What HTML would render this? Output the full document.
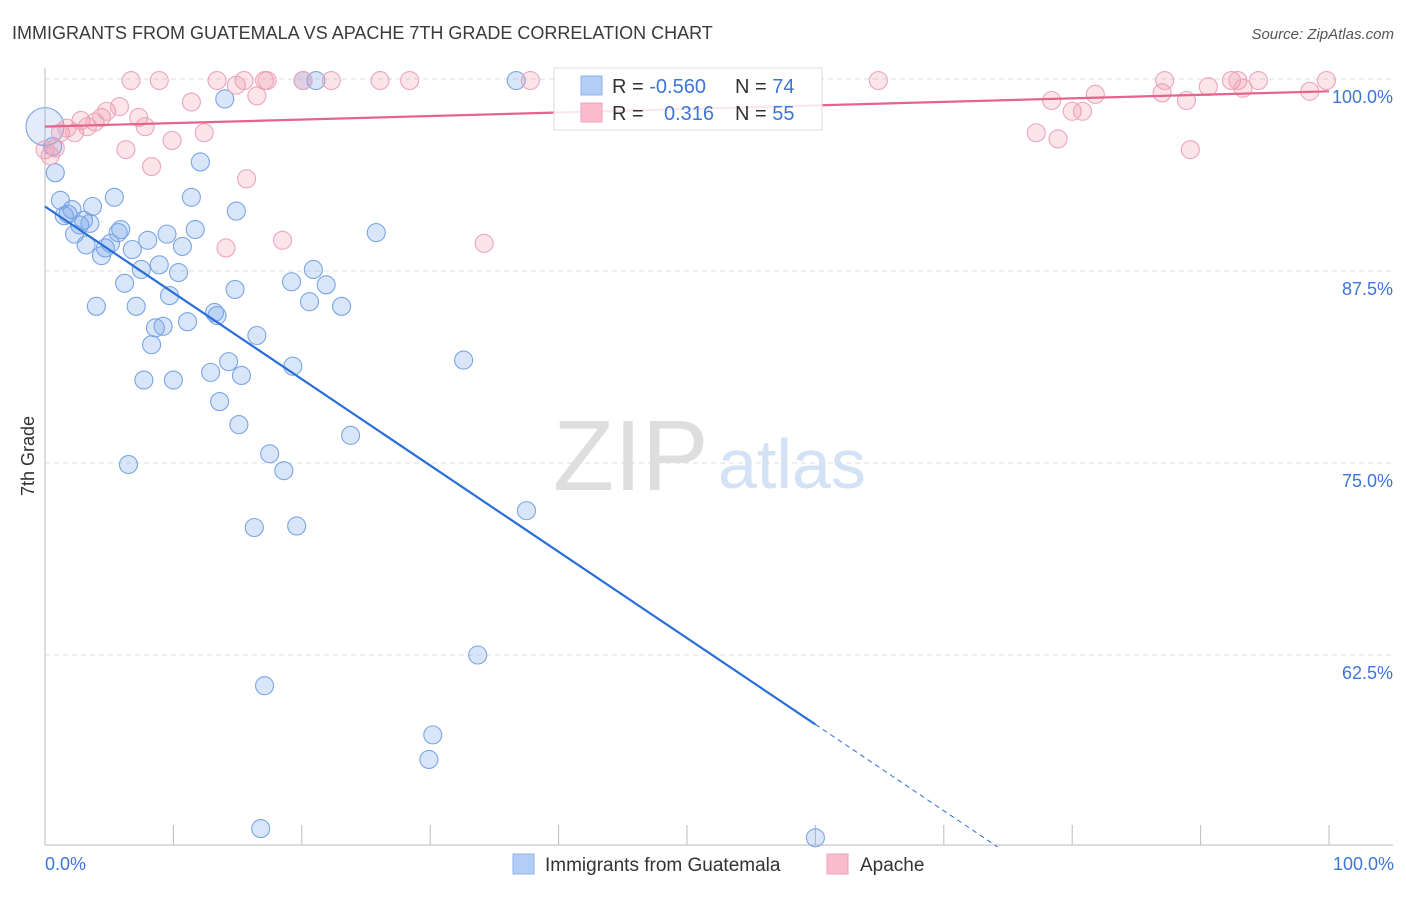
<!DOCTYPE html>
<html><head><meta charset="utf-8">
<style>
body{margin:0;background:#fff;font-family:"Liberation Sans",sans-serif;}
svg text{font-family:"Liberation Sans",sans-serif;}
</style></head>
<body>
<svg id="chart" width="1406" height="892" xmlns="http://www.w3.org/2000/svg">
<text x="12" y="39" font-size="18" fill="#3a3a3a">IMMIGRANTS FROM GUATEMALA VS APACHE 7TH GRADE CORRELATION CHART</text>
<text x="1394" y="39" font-size="15" fill="#555" text-anchor="end" font-style="italic">Source: ZipAtlas.com</text>
<text x="553" y="490" font-size="100" fill="#dedede" font-family="Liberation Serif,serif">ZIP</text>
<text x="718" y="488" font-size="70" fill="#d3e2f5">atlas</text>
<g id="grid"></g>
<g id="axes"></g>
<g id="pts"></g>
<g id="trend"></g>
<g>
<rect x="554" y="68" width="268" height="62" fill="#fff" fill-opacity="0.85" stroke="#ddd"/>
<rect x="581" y="76" width="21" height="19" fill="#b4cdf4" stroke="#8fb2e8"/>
<rect x="581" y="103" width="21" height="19" fill="#f8bccd" stroke="#eea3ba"/>
<text x="612" y="93" font-size="20" fill="#333">R = <tspan fill="#3d76d6">-0.560</tspan></text>
<text x="735" y="93" font-size="20" fill="#333">N = <tspan fill="#3d76d6">74</tspan></text>
<text x="612" y="120" font-size="20" fill="#333">R = <tspan fill="#3d76d6" x="664">0.316</tspan></text>
<text x="735" y="120" font-size="20" fill="#333">N = <tspan fill="#3d76d6">55</tspan></text>
</g>
<text transform="translate(34,456) rotate(-90)" font-size="18" fill="#333" text-anchor="middle">7th Grade</text>
<text x="45" y="870" font-size="18" fill="#3d76d6">0.0%</text>
<text x="1394" y="870" font-size="18" fill="#3d76d6" text-anchor="end">100.0%</text>
<g>
<rect x="513" y="854" width="21" height="20" fill="#b4cdf4" stroke="#8fb2e8"/>
<text x="545" y="871" font-size="19" fill="#333">Immigrants from Guatemala</text>
<rect x="827" y="854" width="21" height="20" fill="#f8bccd" stroke="#eea3ba"/>
<text x="860" y="871" font-size="19" fill="#333">Apache</text>
</g>
</svg>
<script>
const yTicks=[100,87.5,75,62.5];
const yTickLabels=["100.0%","87.5%","75.0%","62.5%"];
const blueX=[0,0.6,0.8,1.2,1.5,1.8,2.1,2.3,2.7,3.0,3.2,3.5,3.7,4.0,4.4,4.7,5.1,5.4,5.7,5.9,6.2,6.5,6.8,7.1,7.5,7.7,8.0,8.3,8.6,8.9,9.2,9.5,9.7,10.0,10.4,10.7,11.1,11.4,11.7,12.1,12.9,13.2,13.4,13.6,14.0,14.3,14.9,14.8,15.1,15.3,16.3,16.5,16.8,17.1,17.5,18.6,19.2,19.3,19.6,20.1,20.6,20.9,21.1,21.9,23.1,23.8,25.8,29.9,30.2,32.6,33.7,36.7,37.5,60.0];
const blueY=[96.9,95.6,93.9,92.1,91.1,91.2,91.5,89.9,90.5,90.8,89.2,90.6,91.7,85.2,88.5,89.0,89.3,92.3,90.0,90.2,86.7,74.9,88.9,85.2,87.6,80.4,89.5,82.7,83.8,87.9,83.9,89.9,85.9,80.4,87.4,89.1,84.2,92.3,90.2,94.6,80.9,84.8,84.6,79.0,98.7,81.6,91.4,86.3,77.5,80.7,70.8,83.3,51.2,60.5,75.6,74.5,86.8,81.3,70.9,99.9,85.5,87.6,99.9,86.6,85.2,76.8,90.0,55.7,57.3,81.7,62.5,99.9,71.9,50.6];
const pinkX=[0,0.4,0.8,1.2,1.7,2.3,2.8,3.3,3.9,4.4,4.8,5.8,6.3,6.7,7.3,7.8,8.3,8.9,9.9,11.4,12.4,13.4,14.1,14.9,15.5,15.7,16.5,17.1,17.3,18.5,20.1,22.3,26.1,28.4,34.2,37.8,64.9,77.2,78.4,78.9,80.0,80.8,81.8,87.0,87.2,88.9,89.2,90.6,92.4,92.9,93.3,94.5,98.5,99.8];
const pinkY=[95.4,95.0,95.5,96.5,96.8,96.5,97.3,96.9,97.2,97.5,97.9,98.2,95.4,99.9,97.5,96.9,94.3,99.9,96.0,98.5,96.5,99.9,89.0,99.6,99.9,93.5,98.9,99.9,99.9,89.5,99.9,99.9,99.9,99.9,89.3,99.9,99.9,96.5,98.6,96.1,97.9,97.9,99.0,99.1,99.9,98.6,95.4,99.5,99.9,99.9,99.4,99.9,99.2,99.9];
const blueTrend=[91.7,-0.562];
const pinkTrend=[96.9,0.023];
const NS="http://www.w3.org/2000/svg";
const X=v=>45+v*12.84, Y=v=>79+(100-v)*15.36;
function mk(tag,attrs,parent){const e=document.createElementNS(NS,tag);for(const k in attrs)e.setAttribute(k,attrs[k]);parent.appendChild(e);return e;}
const grid=document.getElementById('grid'),axes=document.getElementById('axes'),pts=document.getElementById('pts'),tr=document.getElementById('trend');
yTicks.forEach((t,i)=>{
 const l=mk('line',{x1:45,x2:1393,y1:Y(t),y2:Y(t),stroke:'#ddd','stroke-dasharray':'5,4'},grid);
 
 
 const tx=mk('text',{x:1393,y:Y(t)+24,'font-size':18,fill:'#3d76d6','text-anchor':'end'},grid);
 tx.textContent=yTickLabels[i];
 
 
});
const a1=mk('line',{x1:45,x2:45,y1:68,y2:845,stroke:'#bbb'},axes);


const a2=mk('line',{x1:45,x2:1393,y1:845,y2:845,stroke:'#bbb'},axes);


for(let i=1;i<=10;i++){const t=mk('line',{x1:X(i*10),x2:X(i*10),y1:825,y2:845,stroke:'#bbb'},axes);
 
 }
blueX.forEach((x,i)=>{const c=mk('circle',{cx:X(x),cy:Y(blueY[i]),r:i===0?19:9,fill:i===0?'rgba(110,160,235,0.2)':'rgba(120,165,235,0.28)',stroke:'#7aa5e4','stroke-width':1.1},pts);
 
 });
pinkX.forEach((x,i)=>{const c=mk('circle',{cx:X(x),cy:Y(pinkY[i]),r:9,fill:'rgba(240,150,175,0.26)',stroke:'#eca5bb','stroke-width':1.1},pts);
 
 });
const bEnd=60, bDashEnd=(50-blueTrend[0])/blueTrend[1];
const bl=mk('line',{x1:X(0),y1:Y(blueTrend[0]),x2:X(bEnd),y2:Y(blueTrend[0]+blueTrend[1]*bEnd),stroke:'#2a6fd8','stroke-width':2.2},tr);


const bd=mk('line',{x1:X(bEnd),y1:Y(blueTrend[0]+blueTrend[1]*bEnd),x2:X(bDashEnd),y2:Y(50),stroke:'#2a6fd8','stroke-width':1,'stroke-dasharray':'5,4'},tr);


const pl=mk('line',{x1:X(0),y1:Y(pinkTrend[0]),x2:X(100),y2:Y(pinkTrend[0]+pinkTrend[1]*100),stroke:'#e5648c','stroke-width':2.2},tr);


</script>
</body></html>
